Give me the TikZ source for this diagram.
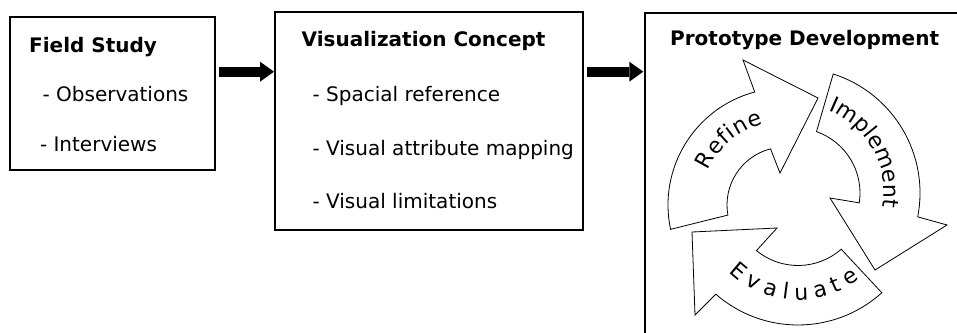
\documentclass[tikz,border=0pt]{standalone}
\usepackage{fontspec}
\setmainfont{DejaVu Sans}
\usetikzlibrary{arrows.meta,calc,decorations.text}
\newcommand\cycfont{\fontsize{22}{26}\selectfont}
\begin{document}
\begin{tikzpicture}[x=1pt,y=1pt,
  box/.style={draw, line width=2.6pt, inner sep=0pt, outer sep=0pt, anchor=north west},
  txt/.style={anchor=base west, inner sep=0pt, font=\fontsize{20}{24}\selectfont},
  headtxt/.style={anchor=base west, inner sep=0pt, font=\fontsize{20}{24}\selectfont\bfseries},
  conn/.style={line width=10pt, -{Triangle[length=14pt,width=20pt,line width=0pt]}},
  cyc/.style={draw, line width=0.8pt, fill=white, line join=miter},
  cyctext/.style={decorate, decoration={text along path, text align={fit to path}}}]
\useasboundingbox (0,0) rectangle (957,-332);
\clip (0,0) rectangle (957,-332);
% boxes
\node[box, minimum width=205pt, minimum height=153pt] (fs) at (10,-17) {};
\node[box, minimum width=308pt, minimum height=218pt] (vc) at (275,-12) {};
\node[box, minimum width=400pt, minimum height=400pt] (pd) at (645,-13) {};
% texts
\node[headtxt] (fsh) at (29,-52) {Field Study};
\node[txt] (fs1) at (42.4,-101.7) {- Observations};
\node[txt] (fs2) at (39.8,-151.7) {- Interviews};
\node[headtxt] (vch) at (301.5,-46.7) {Visualization Concept};
\node[txt] (vc1) at (312.4,-101.7) {- Spacial reference};
\node[txt] (vc2) at (312.4,-155) {- Visual attribute mapping};
\node[txt] (vc3) at (312.4,-208.3) {- Visual limitations};
\node[headtxt] (pdh) at (670,-45) {Prototype Development};
% connectors
\draw[conn] ($(fs.north east)+(4,-54.7)$) -- ($(vc.north west)+(-1,-59.7)$);
\draw[conn] ($(vc.north east)+(4,-59.7)$) -- ($(pd.north west)+(-1.7,-58.7)$);
% cycle
\coordinate (cR) at (785,-205);
\coordinate (cI) at (795,-193);
\coordinate (cE) at (798,-200);
\draw[cyc] ($(cR)+(192:117)$) arc[start angle=192, end angle=105, radius=117]
  -- (743,-60) -- (818,-98) -- (780,-173) -- ($(cR)+(104.5:58)$)
  arc[start angle=104.5, end angle=190, radius=58] -- cycle;
\draw[cyc] ($(cI)+(72.2:125)$) arc[start angle=72.2, end angle=-11, radius=125]
  -- (947,-225) -- (875,-270) -- (830,-198) -- ($(cI)+(-8.7:65)$)
  arc[start angle=-8.7, end angle=70.7, radius=65] -- cycle;
\draw[cyc] ($(cE)+(-47.9:125)$) arc[start angle=-47.9, end angle=-131.1, radius=125]
  -- (695,-315) -- (692,-232) -- (777,-228) -- ($(cE)+(-129.4:65.5)$)
  arc[start angle=-129.4, end angle=-48.7, radius=65.5] -- cycle;
\path[cyctext, decoration={text={|\cycfont|Refine}}] ($(cR)+(156:84)$) arc[start angle=156, end angle=105, radius=84];
\path[cyctext, decoration={text={|\cycfont|Implement}}] ($(cI)+(68:89)$) arc[start angle=68, end angle=-9, radius=89];
\path[cyctext, decoration={text={|\cycfont|Evaluate}}] ($(cE)+(-134:100)$) arc[start angle=-134, end angle=-52, radius=100];
\end{tikzpicture}
\end{document}
